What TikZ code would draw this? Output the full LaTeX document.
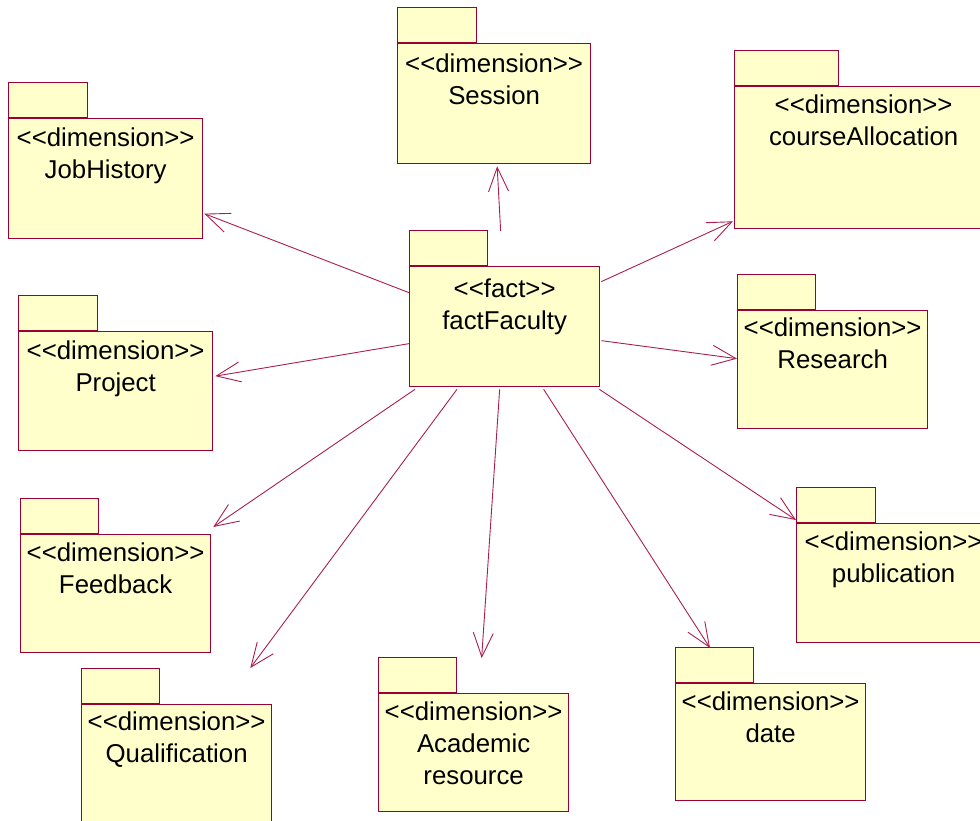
\documentclass[tikz,border=0pt]{standalone}
\usepackage{fontspec}
\setmainfont{Liberation Sans}[Ligatures=TeXOff]
\usetikzlibrary{arrows.meta,positioning}
\definecolor{pkgline}{RGB}{153,0,51}
\definecolor{pkgfill}{RGB}{255,255,204}
\definecolor{depline}{RGB}{170,30,80}
\newcommand{\stdim}{<<dimension>>}
\newcommand{\stfact}{<<fact>>}

\begin{document}
\begin{tikzpicture}[x=1pt, y=-1pt,
  font=\fontsize{25.8}{32}\selectfont,
  pkg/.style={draw=pkgline, fill=pkgfill, line width=1.3pt,
    inner sep=0pt, anchor=north west},
  tab/.style={pkg, anchor=south west, minimum height=35pt},
  lbl/.style={anchor=north, align=center, inner sep=0pt},
  dep/.style={draw=depline, line width=0.9pt,
    -{Straight Barb[length=24pt, width=20pt]}},
]
\clip (0,0) rectangle (980,821);
% packages: corner of body, size, tab width, text offset
\foreach \n/\x/\y/\w/\h/\tw/\o/\t in {
    ses/397/43/193/120/79/1/{\stdim\\Session},
    jh/8/118/194/120/79/0/{\stdim\\JobHistory},
    ca/734/86/258/142/104/-1/{\stdim\\courseAllocation},
    ff/409/266/190/120/78/3/{\stfact\\factFaculty},
    pr/18/331/194/119/79/0/{\stdim\\Project},
    re/737/310/190/118/78/-2/{\stdim\\Research},
    fb/20/534/190/118/78/-1/{\stdim\\Feedback},
    pu/796/523/194/119/79/-1/{\stdim\\publication},
    qu/81/704/190/118/78/-2/{\stdim\\Qualification},
    ac/378/693/190/118/78/-1/{\stdim\\Academic\\resource},
    da/675/683/190/117/78/-1/{\stdim\\date}} {
  \node[pkg, minimum width=\w, minimum height=\h] (\n) at (\x,\y) {};
  \node[tab, minimum width=\tw] (\n-tab) at (\n.north west) {};
  \node[lbl] (\n-t) at ([yshift={-(10+\o)*1pt}]\n.north) {\t};
}
% dependencies of the fact package
\draw[dep] ([shift={(-4,-35)}]ff.north) -- ([shift={(3,2)}]ses.south);
\draw[dep] ([shift={(0,-34)}]ff.west) -- ([shift={(1,35)}]jh.east);
\draw[dep] ([shift={(1,-45)}]ff.east) -- ([shift={(-1,-8)}]ca.south west);
\draw[dep] ([shift={(0,17)}]ff.west) -- ([shift={(2,-15)}]pr.east);
\draw[dep] ([shift={(1,14)}]ff.east) -- ([shift={(0,-11)}]re.west);
\draw[dep] ([shift={(6,2)}]ff.south west) -- ([shift={(2,-7)}]fb.north east);
\draw[dep] ([shift={(48,2)}]ff.south west) -- ([shift={(-22,-36)}]qu.north east);
\draw[dep] ([shift={(-5,2)}]ff.south) -- ([shift={(8,-35)}]ac.north);
\draw[dep] ([shift={(39,2)}]ff.south) -- ([shift={(35,-35)}]da.north west);
\draw[dep] ([shift={(-1,2)}]ff.south east) -- ([shift={(0,-3)}]pu.north west);
\end{tikzpicture}
\end{document}
